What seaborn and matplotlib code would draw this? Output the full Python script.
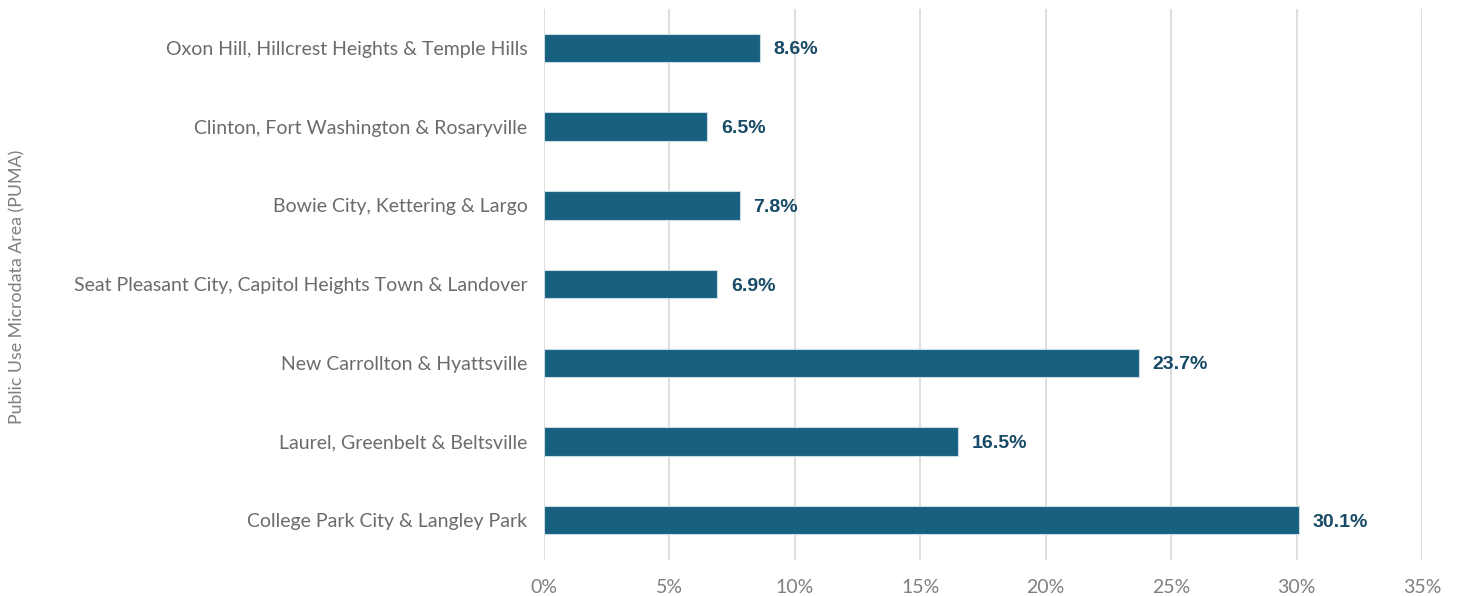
import matplotlib
matplotlib.use("Agg")
import matplotlib.pyplot as plt
import seaborn as sns
import pandas as pd
from matplotlib.ticker import FuncFormatter

areas = [
    "Oxon Hill, Hillcrest Heights & Temple Hills",
    "Clinton, Fort Washington & Rosaryville",
    "Bowie City, Kettering & Largo",
    "Seat Pleasant City, Capitol Heights Town & Landover",
    "New Carrollton & Hyattsville",
    "Laurel, Greenbelt & Beltsville",
    "College Park City & Langley Park",
]
shares = [8.6, 6.5, 7.8, 6.9, 23.7, 16.5, 30.1]
x_ticks = [0, 5, 10, 15, 20, 25, 30, 35]

df = pd.DataFrame({"area": areas, "share": shares})

sns.set_theme(style="white")
plt.rcParams["font.family"] = ["Lato", "DejaVu Sans"]

fig = plt.figure(figsize=(14.57, 5.96), dpi=100)
ax = fig.add_axes([0.3734, 0.0612, 0.6026, 0.9244])

bar_color = "#17607F"
sns.barplot(data=df, x="share", y="area", orient="h", color=bar_color,
            width=0.36, edgecolor="#c9dbe5", linewidth=0.8, ax=ax, zorder=3,
            saturation=1)

ax.set_xlim(0, 35)
ax.set_ylim(6.5, -0.5)
ax.set_xticks(x_ticks)
ax.xaxis.set_major_formatter(FuncFormatter(lambda v, _: f"{v:.0f}%"))
ax.grid(axis="x", color="#d9d9d9", linewidth=1.2, zorder=0)
ax.grid(axis="y", visible=False)
for s in ax.spines.values():
    s.set_visible(False)

ax.tick_params(axis="x", labelsize=14, labelcolor="#7f7f7f", length=0, pad=14)
ax.tick_params(axis="y", labelsize=14, labelcolor="#6b6b6b", length=0, pad=12)

ax.set_xlabel("")
ax.set_ylabel("")
fig.text(0.0117, 0.518, "Public Use Microdata Area (PUMA)",
         rotation=90, ha="center", va="center", fontsize=12.8, color="#7f7f7f")

for container in ax.containers:
    texts = ax.bar_label(container,
                         labels=[f"{v:.1f}%" for v in container.datavalues],
                         padding=10, fontsize=14, fontweight="bold",
                         color="#174a66",
                         family=["Liberation Sans", "DejaVu Sans"])
    for t in texts:
        t.set_va("center_baseline")

fig.savefig("out.png", dpi=100)
